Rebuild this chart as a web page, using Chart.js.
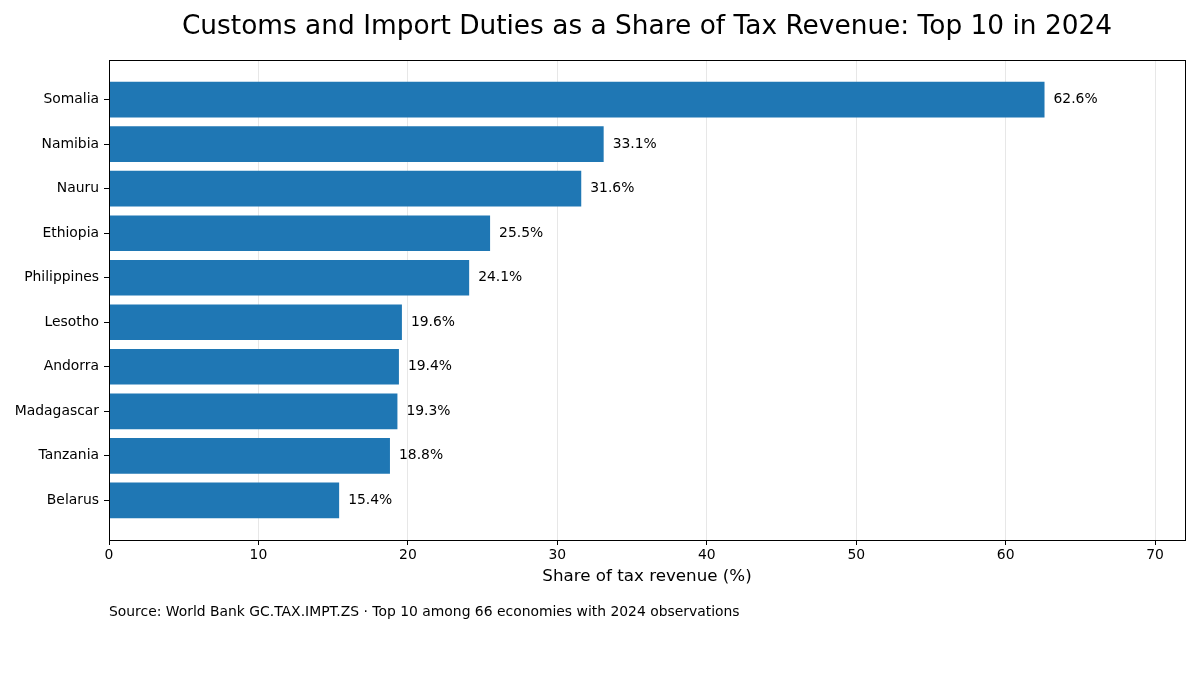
<!DOCTYPE html>
<html>
<head>
<meta charset="utf-8">
<script src="https://cdn.jsdelivr.net/npm/chart.js@4"></script>
<style>
  html, body { margin: 0; padding: 0; background: #fff; }
  #wrap { width: 1200px; height: 675px; }
</style>
</head>
<body>
<div id="wrap"><canvas id="chart" width="1200" height="675"></canvas></div>
<script>
const countries = ['Somalia', 'Namibia', 'Nauru', 'Ethiopia', 'Philippines',
    'Lesotho', 'Andorra', 'Madagascar', 'Tanzania', 'Belarus'];
const shares = [62.6, 33.1, 31.6, 25.5, 24.1, 19.6, 19.4, 19.3, 18.8, 15.4];
const xTicks = [0, 10, 20, 30, 40, 50, 60, 70];

const titleText = 'Customs and Import Duties as a Share of Tax Revenue: Top 10 in 2024';
const xTitleText = 'Share of tax revenue (%)';
const sourceText = 'Source: World Bank GC.TAX.IMPT.ZS \u00b7 Top 10 among 66 economies with 2024 observations';

const FONT = '"DejaVu Sans", sans-serif';

/* ---------- TEXT + FRAME PLUGIN ---------- */
const decorPlugin = {
    id: 'decor',
    afterDraw(chart) {
        const ctx = chart.ctx;
        const area = chart.chartArea;
        const xs = chart.scales.x, ys = chart.scales.y;
        ctx.save();

        // value labels at bar ends
        ctx.fillStyle = '#000';
        ctx.font = '13.9px ' + FONT;
        ctx.textAlign = 'left';
        ctx.textBaseline = 'middle';
        shares.forEach((v, i) => {
            ctx.fillText(v.toFixed(1) + '%', xs.getPixelForValue(v) + 9, ys.getPixelForValue(i));
        });

        // frame (all four spines)
        ctx.strokeStyle = '#000';
        ctx.lineWidth = 1;
        ctx.strokeRect(Math.round(area.left) + 0.5, Math.round(area.top) + 0.5,
            Math.round(area.right - area.left), Math.round(area.bottom - area.top));

        // title
        ctx.textAlign = 'center';
        ctx.font = '26.4px ' + FONT;
        ctx.fillText(titleText, (area.left + area.right) / 2, 27);

        // x axis title
        ctx.font = '16.7px ' + FONT;
        ctx.fillText(xTitleText, (area.left + area.right) / 2, 577);

        // source note
        ctx.textAlign = 'left';
        ctx.font = '13.9px ' + FONT;
        ctx.fillText(sourceText, area.left, 612);
        ctx.restore();
    }
};

new Chart(document.getElementById('chart'), {
    type: 'bar',
    plugins: [decorPlugin],
    data: {
        datasets: [{
            data: shares.map((v, i) => ({ x: v, y: i })),
            backgroundColor: '#1f77b4',
            borderWidth: 0,
            barPercentage: 0.8,
            categoryPercentage: 1
        }]
    },
    options: {
        indexAxis: 'y',
        responsive: false,
        animation: false,
        devicePixelRatio: 1,
        layout: { padding: { left: 0, right: 15, top: 60, bottom: 75 } },
        plugins: { legend: { display: false }, tooltip: { enabled: false } },
        scales: {
            x: {
                type: 'linear',
                min: 0,
                max: 72,
                z: 1,
                afterBuildTicks: s => { s.ticks = xTicks.map(v => ({ value: v })); },
                afterFit: s => { s.height = 60; },
                ticks: { color: '#000', font: { family: FONT, size: 13.9 }, padding: 2, maxRotation: 0 },
                grid: { color: 'rgba(176,176,176,0.3)', tickColor: '#000', tickLength: 5, drawOnChartArea: true },
                border: { color: '#000' }
            },
            y: {
                type: 'linear',
                reverse: true,
                offset: false,
                min: -0.89,
                max: 9.89,
                afterBuildTicks: s => { s.ticks = countries.map((_, i) => ({ value: i })); },
                afterFit: s => { s.width = 109; },
                ticks: {
                    color: '#000',
                    font: { family: FONT, size: 13.9 },
                    padding: 5,
                    callback: v => countries[v]
                },
                grid: { offset: false, drawOnChartArea: false, tickColor: '#000', tickLength: 5 },
                border: { color: '#000' }
            }
        }
    }
});
</script>
</body>
</html>
